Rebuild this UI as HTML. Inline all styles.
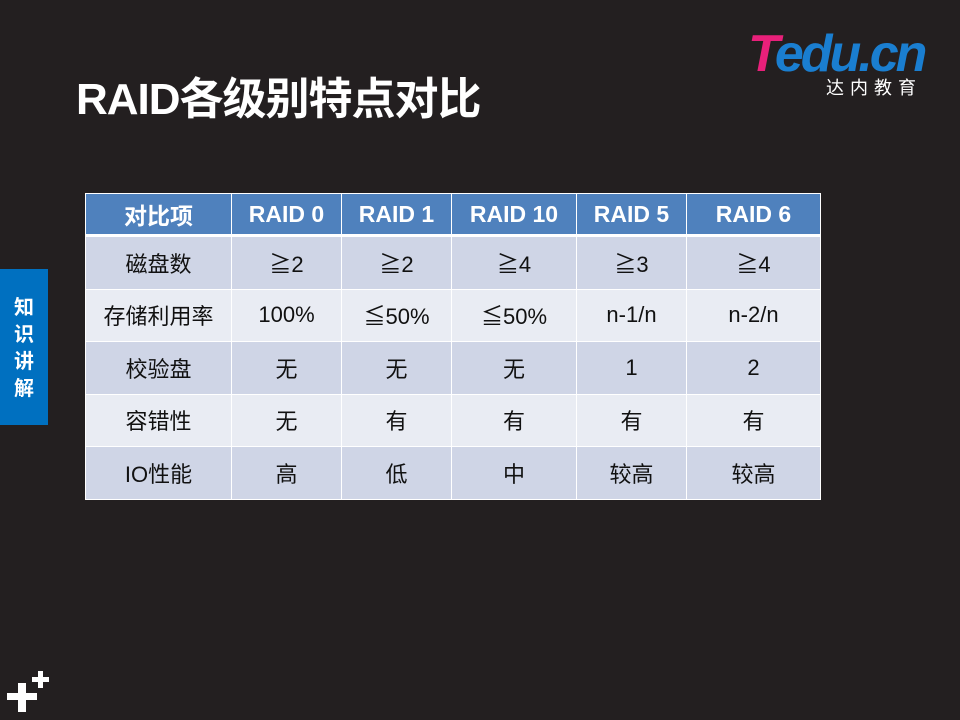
<!DOCTYPE html>
<html><head><meta charset="utf-8"><style>
body{margin:0;width:960px;height:720px;background:#231f20;position:relative;overflow:hidden;font-family:"Liberation Sans","Noto Sans CJK SC",sans-serif}
.title{position:absolute;left:76px;top:63px;color:#fff;font-size:44px;font-weight:bold;letter-spacing:-1px}
.tab{position:absolute;left:0;top:269px;width:48px;height:156px;background:#0070c0;color:#fff;font-weight:bold;font-size:20px;line-height:27px;text-align:center;padding-top:26px;box-sizing:border-box}
table{position:absolute;left:85px;top:193px;border-collapse:collapse;font-size:22px;color:#111}
td{border:1px solid #fff;text-align:center;padding:0}
tr.h td{background:#4f81bd;color:#fff;font-weight:bold;height:40px;border-bottom:3px solid #fff;font-size:23px}
tr.o td{background:#cfd5e6;height:51.5px}
tr.e td{background:#e9ecf3;height:51.5px}
.logo{position:absolute;left:748px;top:28px;font-size:52px;font-weight:bold;font-style:italic;letter-spacing:-3px;line-height:52px}
.logo .t{color:#e8207a}.logo .r{color:#1a7ed0}
.sub{position:absolute;left:826px;top:74px;color:#fff;font-size:18px;letter-spacing:6px}
.plus{position:absolute;background:#fff}
</style></head><body>
<div class="logo"><span class="t">T</span><span class="r">edu.cn</span></div>
<div class="sub">达内教育</div>
<div class="title">RAID各级别特点对比</div>
<div class="tab">知<br>识<br>讲<br>解</div>
<table>
<colgroup><col style="width:146px"><col style="width:110px"><col style="width:110px"><col style="width:125px"><col style="width:110px"><col style="width:134px"></colgroup>
<tr class="h"><td>对比项</td><td>RAID 0</td><td>RAID 1</td><td>RAID 10</td><td>RAID 5</td><td>RAID 6</td></tr>
<tr class="o"><td>磁盘数</td><td>≧2</td><td>≧2</td><td>≧4</td><td>≧3</td><td>≧4</td></tr>
<tr class="e"><td>存储利用率</td><td>100%</td><td>≦50%</td><td>≦50%</td><td>n-1/n</td><td>n-2/n</td></tr>
<tr class="o"><td>校验盘</td><td>无</td><td>无</td><td>无</td><td>1</td><td>2</td></tr>
<tr class="e"><td>容错性</td><td>无</td><td>有</td><td>有</td><td>有</td><td>有</td></tr>
<tr class="o"><td>IO性能</td><td>高</td><td>低</td><td>中</td><td>较高</td><td>较高</td></tr>
</table>
<div>
<div class="plus" style="left:7px;top:693px;width:30px;height:7px"></div>
<div class="plus" style="left:18px;top:683px;width:8px;height:29px"></div>
<div class="plus" style="left:32px;top:677px;width:17px;height:5px"></div>
<div class="plus" style="left:38px;top:671px;width:5px;height:17px"></div>
</div>
</body></html>
